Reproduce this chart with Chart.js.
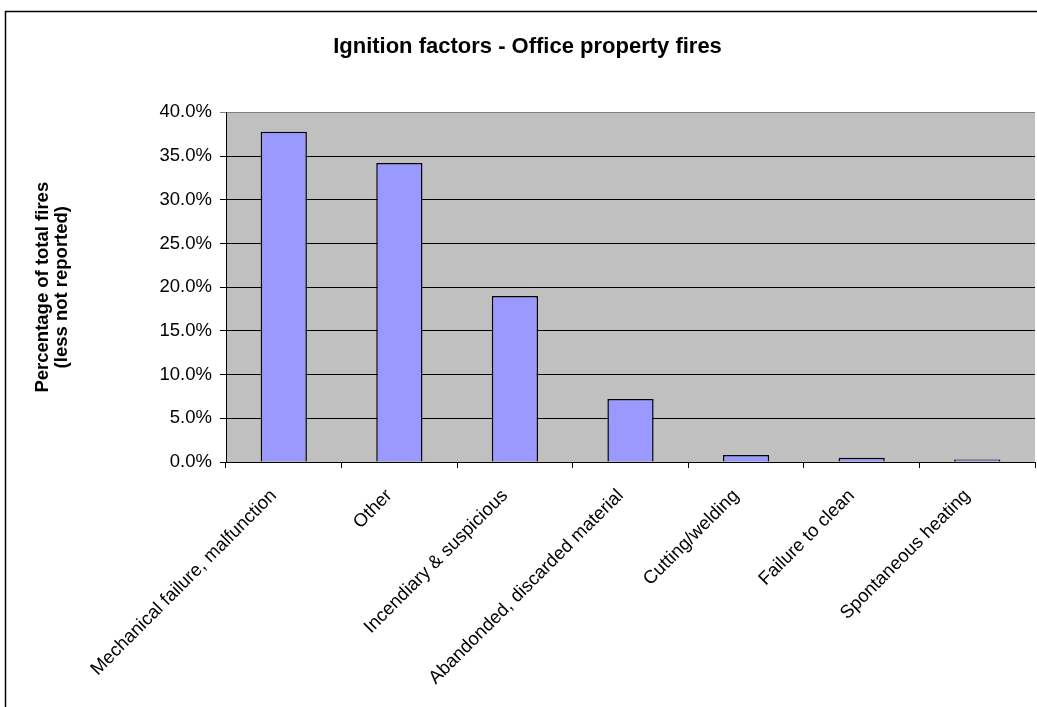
<!DOCTYPE html>
<html>
<head>
  <title>Ignition factors - Office property fires</title>
  <script src="https://cdn.jsdelivr.net/npm/chart.js"></script>
  <style>
    body {
      margin: 0;
      background-color: white;
    }
    #wrap {
      width: 1037px;
      height: 707px;
    }
  </style>
</head>
<body>
  <div id="wrap"><canvas id="myChart"></canvas></div>

  <script>
    // ignition factor categories and share of total fires (percent, less not reported)
    const factors = [
      'Mechanical failure, malfunction',
      'Other',
      'Incendiary & suspicious',
      'Abandonded, discarded material',
      'Cutting/welding',
      'Failure to clean',
      'Spontaneous heating'
    ];
    const percentOfFires = [37.8, 34.2, 19.0, 7.2, 0.8, 0.5, 0.3];
    const yTicks = [0, 5, 10, 15, 20, 25, 30, 35, 40];

    const fontFamily = "'Liberation Sans', Arial, sans-serif";

    // grey plot area plus the outer frame around the whole chart
    const backdrop = {
      id: 'backdrop',
      beforeDraw(chart) {
        const { ctx, chartArea } = chart;
        ctx.save();
        ctx.fillStyle = '#C0C0C0';
        ctx.fillRect(chartArea.left, chartArea.top, chartArea.right - chartArea.left, chartArea.bottom - chartArea.top);
        ctx.strokeStyle = '#000';
        ctx.lineWidth = 1.5;
        ctx.strokeRect(5.5, 11.5, 1100, 800);
        ctx.restore();
      }
    };

    new Chart(document.getElementById('myChart').getContext('2d'), {
      type: 'bar',
      data: {
        labels: factors,
        datasets: [{
          data: percentOfFires,
          backgroundColor: '#9999FF',
          borderColor: '#000',
          borderWidth: 1.5,
          categoryPercentage: 1,
          barPercentage: 0.4
        }]
      },
      plugins: [backdrop],
      options: {
        responsive: true,
        maintainAspectRatio: false,
        animation: false,
        layout: { padding: { left: 20, right: 2, top: 0, bottom: 0 } },
        plugins: {
          legend: { display: false },
          tooltip: { enabled: false },
          title: {
            display: true,
            text: 'Ignition factors - Office property fires',
            color: '#000',
            font: { family: fontFamily, size: 22, weight: 'bold' },
            padding: { top: 34, bottom: 52 }
          }
        },
        scales: {
          x: {
            grid: { offset: true, drawOnChartArea: false, color: '#000', tickLength: 6 },
            border: { color: '#000' },
            ticks: {
              color: '#000',
              font: { family: fontFamily, size: 18.5 },
              minRotation: 45,
              maxRotation: 45,
              autoSkip: false,
              padding: 17,
              labelOffset: -10
            },
            afterFit(scale) { scale.height = 245; }
          },
          y: {
            min: 0,
            max: 40,
            afterBuildTicks(scale) { scale.ticks = yTicks.map(v => ({ value: v })); },
            grid: {
              color: ctx => (ctx.tick && ctx.tick.value === 40) ? '#808080' : '#000',
              tickLength: 6
            },
            border: { color: '#000' },
            ticks: {
              color: '#000',
              font: { family: fontFamily, size: 18.5 },
              padding: 8,
              callback: v => v.toFixed(1) + '%'
            },
            title: {
              display: true,
              text: ['Percentage of total fires', '(less not reported)'],
              color: '#000',
              font: { family: fontFamily, size: 18.5, weight: 'bold', lineHeight: 1.0 },
              padding: { top: 14, bottom: 0 }
            },
            afterFit(scale) { scale.width = 206; }
          }
        }
      }
    });
  </script>
</body>
</html>
